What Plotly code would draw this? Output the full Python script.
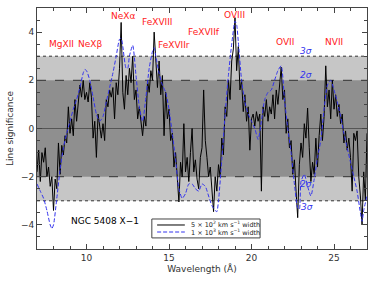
import plotly.graph_objects as go

# ---- data ----
wave_narrow = [round(7.0 + 0.1 * i, 1) for i in range(201)]
sig_narrow = [
    -1.8, -0.9, -2.2, -1.0, -1.4, -0.8, -2.0, -1.6, -2.4, -2.0,   # 7.0-7.9
    -3.4, -2.1, -2.5, -0.6, -1.9, -0.7, -1.1, -0.3, -0.6, 0.9,    # 8.0-8.9
    -0.2, 0.4, -0.3, 1.2, 0.3, 1.0, 1.8, 1.3, 2.0, 1.2,           # 9.0-9.9
    1.5, 1.1, 1.9, 1.3, -0.4, 0.3, -1.2, 0.6, 0.1, -0.4,          # 10.0-10.9
    0.2, -0.5, 1.2, 0.9, 1.6, 1.3, 1.7, 0.4, 1.9, 1.4,            # 11.0-11.9
    2.5, 4.4, 1.5, 0.8, 2.2, 1.4, 2.5, 1.9, 3.0, 1.2,             # 12.0-12.9
    1.6, 0.4, 0.9, 0.2, -0.3, 0.5, 0.1, 2.0, 1.5, 2.4,            # 13.0-13.9
    2.0, 4.0, 2.6, 1.7, 2.8, 1.4, 2.2, -0.3, 1.5, 0.4,            # 14.0-14.9
    0.8, -0.5, -0.2, -1.6, -1.0, -2.3, -3.05, -1.4, -2.0, 0.2,    # 15.0-15.9
    -1.8, -1.2, -2.2, -1.0, 0.0, -1.8, -1.3, -2.1, -2.5, -1.2,    # 16.0-16.9
    -0.8, 1.6, -0.5, -1.2, -2.0, -1.6, -2.6, -3.45, -2.0, -2.6,   # 17.0-17.9
    -1.5, -2.0, -0.4, -1.1, 0.9, 0.5, 2.0, 1.2, 2.8, 3.3,         # 18.0-18.9
    4.6, 2.4, 3.4, 1.6, 2.0, 0.7, 1.4, 0.3, 0.9, -0.9,            # 19.0-19.9
    0.4, 0.6, 0.1, 0.7, 0.3, 0.6, -2.6, 0.9, 0.5, 1.2,            # 20.0-20.9
    0.3, 0.9, 0.6, 1.4, 0.4, 1.6, 1.0, 2.0, 2.55, 1.2,            # 21.0-21.9
    1.6, -0.2, 0.4, -0.8, -0.5, -1.9, -1.3, -2.6, -3.7, -1.5,     # 22.0-22.9
    -0.6, -1.2, 0.2, -0.4, 0.85, -0.8, -2.2, -1.4, -1.9, -0.4,    # 23.0-23.9
    -1.6, -0.3, 0.6, -0.5, 0.5, 2.6, 0.9, 1.6, 0.4, 2.0,          # 24.0-24.9
    0.8, 1.4, 0.5, 1.0, 0.2, 0.6, -0.6, -0.1, -0.9, -0.4,         # 25.0-25.9
    -1.2, -2.6, -0.2, -0.5, -0.1, -2.0, -2.8, -4.0, -1.8, -3.0,   # 26.0-26.9
    -0.2,                                                          # 27.0
]

wave_broad = [7.0, 7.2, 7.4, 7.6, 7.8, 7.9, 8.0, 8.2, 8.4, 8.6, 8.8, 9.0, 9.2, 9.4,
              9.6, 9.8, 9.9, 10.0, 10.2, 10.4, 10.6, 10.8, 11.0, 11.2, 11.4, 11.6,
              11.8, 12.0, 12.1, 12.2, 12.4, 12.5, 12.6, 12.8, 13.0, 13.2, 13.4, 13.6,
              13.8, 14.0, 14.1, 14.2, 14.4, 14.6, 14.8, 15.0, 15.2, 15.4, 15.6, 15.8,
              16.0, 16.2, 16.4, 16.6, 16.8, 17.0, 17.2, 17.4, 17.6, 17.8, 17.9, 18.0,
              18.2, 18.4, 18.6, 18.8, 19.0, 19.1, 19.2, 19.4, 19.6, 19.8, 20.0, 20.2,
              20.4, 20.6, 20.8, 21.0, 21.2, 21.4, 21.6, 21.8, 22.0, 22.2, 22.4, 22.6,
              22.8, 22.9, 23.0, 23.2, 23.4, 23.6, 23.8, 24.0, 24.2, 24.4, 24.6, 24.8,
              25.0, 25.2, 25.4, 25.6, 25.8, 26.0, 26.2, 26.4, 26.6, 26.7, 26.8, 27.0]
sig_broad = [-2.3, -2.6, -2.9, -3.4, -4.0, -4.15, -4.0, -2.9, -1.7, -0.8, -0.2, 0.3, 0.8, 1.2,
             1.7, 2.3, 2.45, 2.4, 2.0, 1.3, 0.6, 0.3, 0.5, 1.1, 1.7, 2.3,
             3.0, 3.7, 3.75, 3.4, 2.5, 2.5, 3.0, 3.45, 2.2, 0.9, 0.3, 1.3,
             2.5, 3.2, 3.35, 3.0, 2.3, 1.8, 1.5, 0.8, -0.2, -1.3, -2.5, -2.9,
             -2.7, -2.3, -2.3, -2.5, -2.6, -2.3, -2.4, -2.8, -3.2, -3.4, -3.45, -3.0,
             -1.3, 0.6, 2.2, 3.5, 4.45, 4.3, 3.6, 2.0, 1.1, 0.6, 0.3, 0.0,
             -0.45, 0.3, 1.2, 1.5, 1.6, 2.0, 2.4, 2.6, 1.2, 0.0, -1.0, -2.3,
             -3.3, -3.35, -2.2, -1.9, -2.4, -2.8, -2.1, -1.2, -0.5, 0.8, 1.8, 2.0,
             1.6, 1.1, 0.5, -0.2, -0.8, -1.4, -2.0, -2.6, -3.5, -3.85, -3.4, -2.8]

line_names = ["MgXII", "NeXβ", "NeXα", "FeXVIII", "FeXVIIr", "FeXVIIf", "OVIII", "OVII", "NVII"]
line_x = [8.46, 10.2, 12.2, 14.3, 15.3, 17.1, 18.96, 22.06, 24.97]
line_y = [3.5, 3.5, 4.66, 4.4, 3.48, 4.0, 4.72, 3.6, 3.6]

sigma_labels = ["3σ", "2σ", "2σ", "3σ"]
sigma_x = [23.3, 23.3, 23.3, 23.35]
sigma_y = [3.2, 2.2, -2.3, -3.24]

legend_names = ["5 × 10<sup>2</sup> km s<sup>−1</sup> width",
                "1 × 10<sup>3</sup> km s<sup>−1</sup> width"]

x_range = [7, 27]
y_range = [-5, 5]

BLUE = "#3333ee"

fig = go.Figure()

# shaded significance bands
fig.add_hrect(y0=-3, y1=3, fillcolor="#c6c6c6", line_width=0, layer="below")
fig.add_hrect(y0=-2, y1=2, fillcolor="#8f8f8f", line_width=0, layer="below")
for yv, dash in [(3, "dot"), (-3, "dot"), (2, "dash"), (-2, "dash")]:
    fig.add_hline(y=yv, line=dict(color="#333333", width=1, dash=dash), layer="below")
fig.add_hline(y=0, line=dict(color="#555555", width=1.2), layer="below")

fig.add_trace(go.Scatter(x=wave_narrow, y=sig_narrow, mode="lines",
                         line=dict(color="black", width=1), name=legend_names[0],
                         showlegend=False))
fig.add_trace(go.Scatter(x=wave_broad, y=sig_broad, mode="lines",
                         line=dict(color=BLUE, width=1, dash="4px,2px",
                                   shape="spline", smoothing=0.6),
                         name=legend_names[1], showlegend=False))

for name, xv, yv in zip(line_names, line_x, line_y):
    fig.add_annotation(x=xv, y=yv, text=name, showarrow=False,
                       font=dict(color="#ff2020", size=9, family="DejaVu Sans"))
for name, xv, yv in zip(sigma_labels, sigma_x, sigma_y):
    fig.add_annotation(x=xv, y=yv, text="<i>" + name + "</i>", showarrow=False,
                       font=dict(color=BLUE, size=9, family="DejaVu Sans"))
fig.add_annotation(x=11.13, y=-3.85, text="NGC 5408 X−1", showarrow=False,
                   font=dict(color="black", size=9, family="DejaVu Sans"))

# hand-built legend box (paper coordinates)
fig.add_shape(type="rect", xref="paper", yref="paper", x0=0.348, x1=0.676,
              y0=0.046, y1=0.1245, line=dict(color="#444444", width=1),
              fillcolor="white", layer="above")
fig.add_shape(type="line", xref="paper", yref="paper", x0=0.364, x1=0.448,
              y0=0.0996, y1=0.0996, line=dict(color="black", width=1))
fig.add_shape(type="line", xref="paper", yref="paper", x0=0.364, x1=0.448,
              y0=0.0705, y1=0.0705, line=dict(color=BLUE, width=1, dash="4px,2px"))
for txt, yv in zip(legend_names, [0.0996, 0.0705]):
    fig.add_annotation(xref="paper", yref="paper", x=0.462, y=yv, text=txt,
                       showarrow=False, xanchor="left", yanchor="middle",
                       font=dict(size=6.5, color="#222222", family="DejaVu Sans"))

axis_common = dict(showgrid=False, zeroline=False, showline=True, linecolor="#444444",
                   linewidth=1, mirror="ticks", ticks="inside", ticklen=5,
                   tickcolor="#444444", tickfont=dict(size=9, color="#333333"),
                   automargin=False)

fig.update_xaxes(range=x_range, tickvals=[10, 15, 20, 25],
                 minor=dict(ticks="inside", dtick=1, ticklen=3, tickcolor="#444444"),
                 title=dict(text="Wavelength (Å)", font=dict(size=9, color="#333333"), standoff=2),
                 **axis_common)
fig.update_yaxes(range=y_range, tickvals=[-4, -2, 0, 2, 4],
                 minor=dict(ticks="inside", dtick=0.5, ticklen=3, tickcolor="#444444"),
                 title=dict(text="Line significance", font=dict(size=9, color="#333333"), standoff=5),
                 **axis_common)

fig.update_layout(
    width=374, height=282,
    margin=dict(l=37, r=7, t=8, b=33),
    paper_bgcolor="white", plot_bgcolor="white",
    font=dict(family="DejaVu Sans"),
    showlegend=False,
)

fig.write_html("out.html", config={"displayModeBar": False, "staticPlot": True},
               post_script="document.body.style.margin='0px';")
